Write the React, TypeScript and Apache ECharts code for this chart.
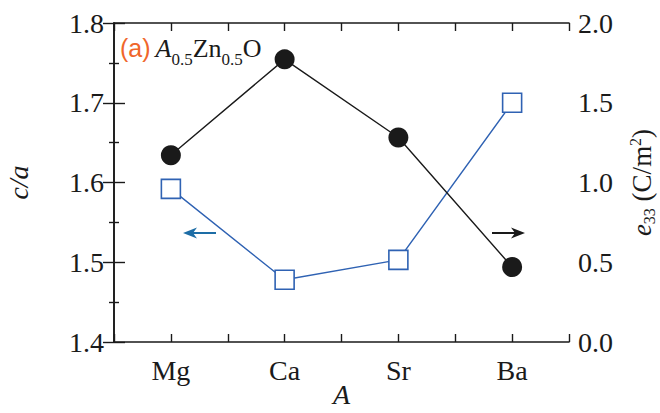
import React, { useEffect, useRef } from "react";
import * as echarts from "echarts";

// A-site cation and the two quantities plotted for A0.5Zn0.5O
const categories = ["Mg", "Ca", "Sr", "Ba"];
const caRatio = [1.592, 1.478, 1.503, 1.7];
const e33Values = [1.171, 1.772, 1.282, 0.47];

const leftTicks = { min: 1.4, max: 1.8, interval: 0.1 };
const rightTicks = { min: 0, max: 2, interval: 0.5 };

const SERIF = "'Liberation Serif', 'DejaVu Serif', serif";
const INK = "#1a1a1a";
const BLUE = "#2f62b3";
const ARROW_BLUE = "#1d6da6";
const ORANGE = "#f0662a";

// categories sit on odd positions of a 0..8 axis so ticks fall between and on them
const xPos = (i: number) => 2 * i + 1;

export default function App() {
  const ref = useRef<HTMLDivElement>(null);

  useEffect(() => {
    if (!ref.current) return;
    const chart = echarts.init(ref.current, null, { renderer: "svg" });

    const catLabel = (v: number) => {
      const i = (v - 1) / 2;
      return Number.isInteger(i) && categories[i] ? categories[i] : "";
    };

    const tickText = { fontFamily: SERIF, fontSize: 28, color: INK };

    const xCommon = {
      type: "value" as const,
      min: 0,
      max: 8,
      interval: 1,
      splitLine: { show: false },
      axisLine: { show: true, onZero: false, lineStyle: { color: INK, width: 1.6 } },
      axisTick: { show: true, inside: true, length: 8, lineStyle: { color: INK, width: 1.4 } },
    };

    const yCommon = {
      type: "value" as const,
      splitLine: { show: false },
      axisLine: { show: true, lineStyle: { color: INK, width: 1.6 } },
      axisTick: { show: true, inside: true, length: 11, lineStyle: { color: INK, width: 1.4 } },
      minorTick: { show: true, splitNumber: 2, length: 5, lineStyle: { color: INK, width: 1.4 } },
    };

    const arrow = (tipX: number, y: number, dir: number, len: number, color: string) => ({
      type: "group",
      children: [
        {
          type: "line",
          shape: { x1: tipX + dir * 8, y1: y, x2: tipX + dir * len, y2: y },
          style: { stroke: color, lineWidth: 2 },
        },
        {
          type: "polygon",
          shape: {
            points: [
              [tipX, y],
              [tipX + dir * 14, y - 5.5],
              [tipX + dir * 10, y],
              [tipX + dir * 14, y + 5.5],
            ],
          },
          style: { fill: color },
        },
      ],
    });

    chart.setOption({
      animation: false,
      backgroundColor: "#ffffff",
      grid: { left: 114, right: 91, top: 23, bottom: 71, containLabel: false, outerBoundsMode: "none" },
      xAxis: [
        {
          ...xCommon,
          position: "bottom",
          name: "A",
          nameLocation: "middle",
          nameGap: 38,
          nameMoveOverlap: false,
          nameTextStyle: { fontFamily: SERIF, fontSize: 28, fontStyle: "italic", color: INK },
          axisLabel: { ...tickText, margin: 14, formatter: catLabel },
        },
        {
          ...xCommon,
          position: "top",
          axisLabel: { show: false },
        },
      ],
      yAxis: [
        {
          ...yCommon,
          ...leftTicks,
          position: "left",
          name: "c/a",
          nameLocation: "middle",
          nameRotate: 90,
          nameGap: 82,
          nameTextStyle: { fontFamily: SERIF, fontSize: 28, fontStyle: "italic", color: INK },
          axisLabel: { ...tickText, margin: 10, formatter: (v: number) => v.toFixed(1) },
        },
        {
          ...yCommon,
          ...rightTicks,
          position: "right",
          name: "{e|e}{s|33}{n| (C/m}{p|2}{n|)}",
          nameLocation: "middle",
          nameRotate: 90,
          nameGap: 58,
          nameTextStyle: {
            fontFamily: SERIF,
            fontSize: 26,
            color: INK,
            rich: {
              e: { fontFamily: SERIF, fontSize: 27, fontStyle: "italic", color: INK, lineHeight: 30, verticalAlign: "middle" },
              s: { fontFamily: SERIF, fontSize: 16, color: INK, lineHeight: 30, verticalAlign: "bottom" },
              n: { fontFamily: SERIF, fontSize: 27, color: INK, lineHeight: 30, verticalAlign: "middle" },
              p: { fontFamily: SERIF, fontSize: 16, color: INK, lineHeight: 30, verticalAlign: "top" },
            },
          },
          axisLabel: { ...tickText, margin: 9, formatter: (v: number) => v.toFixed(1) },
        },
      ],
      series: [
        {
          name: "c/a",
          type: "line",
          xAxisIndex: 0,
          yAxisIndex: 0,
          data: caRatio.map((v, i) => [xPos(i), v]),
          symbol: "rect",
          symbolSize: 19,
          lineStyle: { color: BLUE, width: 1.4 },
          itemStyle: { color: "#ffffff", borderColor: BLUE, borderWidth: 1.6 },
          z: 3,
        },
        {
          name: "e33",
          type: "line",
          xAxisIndex: 0,
          yAxisIndex: 1,
          data: e33Values.map((v, i) => [xPos(i), v]),
          symbol: "circle",
          symbolSize: 20,
          lineStyle: { color: INK, width: 1.4 },
          itemStyle: { color: INK },
          z: 4,
        },
      ],
      graphic: [
        {
          type: "text",
          left: 120,
          top: 35,
          style: {
            text: "{a|(a)}{i|A}{s|0.5}{n|Zn}{s|0.5}{n|O}",
            rich: {
              a: { fontFamily: "'Liberation Sans', Arial, sans-serif", fontSize: 25, fill: ORANGE, lineHeight: 40, verticalAlign: "middle", padding: [0, 5, 0, 0] },
              i: { fontFamily: SERIF, fontSize: 26, fontStyle: "italic", fill: INK, lineHeight: 40, verticalAlign: "middle" },
              s: { fontFamily: SERIF, fontSize: 17, fill: INK, lineHeight: 40, verticalAlign: "bottom" },
              n: { fontFamily: SERIF, fontSize: 26, fill: INK, lineHeight: 40, verticalAlign: "middle" },
            },
          },
        },
        arrow(183, 233, 1, 33, ARROW_BLUE),
        arrow(525, 233, -1, 33, INK),
      ],
    });

    return () => chart.dispose();
  }, []);

  return (
    <div
      ref={ref}
      style={{ position: "fixed", left: 0, top: 0, width: 660, height: 413, background: "#fff" }}
    />
  );
}
